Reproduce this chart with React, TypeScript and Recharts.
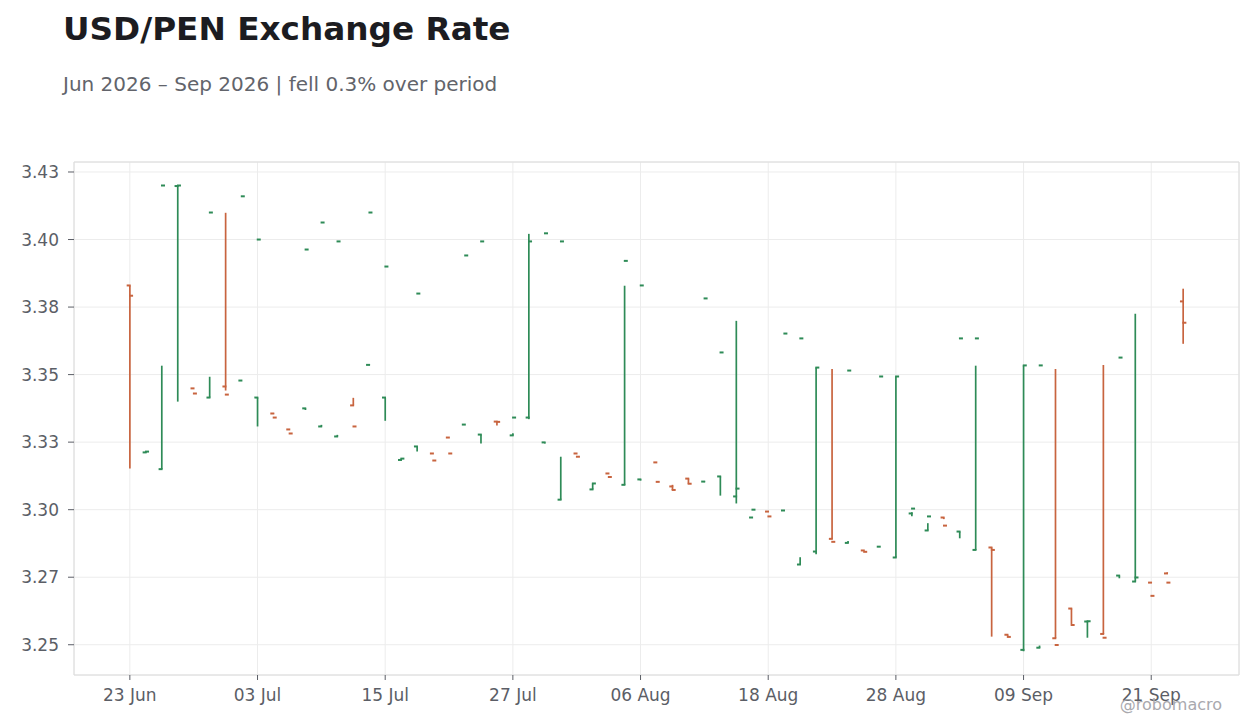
import React from "react";
import { ComposedChart, Bar, XAxis, YAxis, CartesianGrid, ReferenceArea } from "recharts";

const dates = [
  "23 Jun", "24 Jun", "25 Jun", "26 Jun", "29 Jun", "30 Jun",
  "01 Jul", "02 Jul", "03 Jul", "06 Jul", "07 Jul", "08 Jul", "09 Jul", "10 Jul",
  "13 Jul", "14 Jul", "15 Jul", "16 Jul", "17 Jul", "20 Jul", "21 Jul", "22 Jul",
  "23 Jul", "24 Jul", "27 Jul", "28 Jul", "29 Jul", "30 Jul", "31 Jul",
  "03 Aug", "04 Aug", "05 Aug", "06 Aug", "07 Aug", "10 Aug", "11 Aug", "12 Aug",
  "13 Aug", "14 Aug", "17 Aug", "18 Aug", "19 Aug", "20 Aug", "21 Aug", "24 Aug",
  "25 Aug", "26 Aug", "27 Aug", "28 Aug", "31 Aug",
  "01 Sep", "02 Sep", "03 Sep", "04 Sep", "07 Sep", "08 Sep", "09 Sep", "10 Sep",
  "11 Sep", "14 Sep", "15 Sep", "16 Sep", "17 Sep", "18 Sep", "21 Sep", "22 Sep", "23 Sep",
];

const opens = [
  3.3830, 3.3212, 3.3150, 3.4198, 3.3449, 3.3415, 3.3456, 3.3478, 3.3415, 3.3356,
  3.3297, 3.3375, 3.3308, 3.3271, 3.3386, 3.3536, 3.3415, 3.3184, 3.3234, 3.3208,
  3.3267, 3.3315, 3.3278, 3.3326, 3.3275, 3.3341, 3.3249, 3.3037, 3.3208, 3.3075,
  3.3134, 3.3092, 3.3112, 3.3175, 3.3086, 3.3115, 3.3104, 3.3123, 3.3049, 3.2971,
  3.2993, 3.2997, 3.2797, 3.2845, 3.2892, 3.2877, 3.2849, 3.2863, 3.2823, 3.2986,
  3.2923, 3.2971, 3.2919, 3.2851, 3.2860, 3.2537, 3.2481, 3.2489, 3.2524, 3.2634,
  3.2586, 3.2540, 3.2756, 3.2734, 3.2730, 3.2764, 3.3771,
];

const highs = [
  3.3830, 3.3216, 3.3533, 3.4202, 3.3449, 3.3492, 3.4099, 3.3478, 3.3415, 3.3357,
  3.3297, 3.3375, 3.3314, 3.3277, 3.3414, 3.3537, 3.3415, 3.3189, 3.3234, 3.3208,
  3.3267, 3.3315, 3.3278, 3.3326, 3.3283, 3.4021, 3.3249, 3.3196, 3.3208, 3.3097,
  3.3134, 3.3829, 3.3112, 3.3175, 3.3092, 3.3115, 3.3104, 3.3123, 3.3699, 3.2971,
  3.2993, 3.2997, 3.2824, 3.3526, 3.3521, 3.2884, 3.2849, 3.2863, 3.3493, 3.2990,
  3.2950, 3.2971, 3.2919, 3.3533, 3.2860, 3.2537, 3.3534, 3.2497, 3.3521, 3.2634,
  3.2587, 3.3536, 3.2756, 3.3725, 3.2730, 3.2768, 3.3818,
];

const lows = [
  3.3152, 3.3211, 3.3150, 3.3400, 3.3449, 3.3415, 3.3441, 3.3478, 3.3308, 3.3356,
  3.3297, 3.3369, 3.3308, 3.3271, 3.3386, 3.3535, 3.3329, 3.3184, 3.3215, 3.3208,
  3.3267, 3.3315, 3.3245, 3.3312, 3.3275, 3.3335, 3.3245, 3.3037, 3.3208, 3.3075,
  3.3134, 3.3092, 3.3108, 3.3175, 3.3073, 3.3096, 3.3102, 3.3052, 3.3023, 3.2971,
  3.2993, 3.2995, 3.2797, 3.2835, 3.2892, 3.2877, 3.2849, 3.2863, 3.2823, 3.2976,
  3.2923, 3.2965, 3.2894, 3.2851, 3.2530, 3.2533, 3.2476, 3.2489, 3.2524, 3.2576,
  3.2526, 3.2540, 3.2746, 3.2734, 3.2730, 3.2764, 3.3614,
];

const closes = [
  3.3792, 3.3215, 3.4200, 3.4200, 3.3430, 3.4100, 3.3426, 3.4160, 3.4000, 3.3341,
  3.3282, 3.3963, 3.4063, 3.3993, 3.3308, 3.4100, 3.3900, 3.3189, 3.3800, 3.3182,
  3.3208, 3.3941, 3.3993, 3.3325, 3.3341, 3.3993, 3.4023, 3.3993, 3.3196, 3.3097,
  3.3121, 3.3921, 3.3830, 3.3103, 3.3073, 3.3096, 3.3782, 3.3582, 3.3078, 3.3000,
  3.2975, 3.3652, 3.3634, 3.3526, 3.2881, 3.3515, 3.2844, 3.3493, 3.3493, 3.3004,
  3.2975, 3.2941, 3.3634, 3.3634, 3.2851, 3.2529, 3.3534, 3.3534, 3.2499, 3.2573,
  3.2587, 3.2526, 3.3563, 3.2749, 3.2681, 3.2730, 3.3692,
];

const xTicks = [0, 8, 16, 24, 32, 40, 48, 56, 64];
const yTicks = [3.25, 3.275, 3.3, 3.325, 3.35, 3.375, 3.4, 3.425];
const yTickLabels = ["3.25", "3.27", "3.30", "3.33", "3.35", "3.38", "3.40", "3.43"];

const UP = "#2e8b57";
const DOWN = "#c8643f";
const FONT = "'DejaVu Sans', Verdana, sans-serif";
const TICK_COLOR = "#5b5e66";

const data = dates.map((d, i) => {
  const o = opens[i], h = highs[i], l = lows[i], c = closes[i];
  return {
    i,
    date: d,
    open: o,
    high: h,
    low: l,
    close: c,
    range: [Math.min(o, h, l, c), Math.max(o, h, l, c)],
  };
});

function OhlcShape(props: any) {
  const { x, y, width, height, payload } = props;
  if (x == null || y == null || !payload) return null;
  const top = Math.min(y, y + height);
  const bot = Math.max(y, y + height);
  const lo = payload.range[0];
  const hi = payload.range[1];
  const toY = (v: number) => (hi === lo ? top : top + ((hi - v) / (hi - lo)) * (bot - top));
  const cx = x + width / 2;
  const color = payload.close >= payload.open ? UP : DOWN;
  const yH = toY(payload.high);
  const yL = toY(payload.low);
  const yO = toY(payload.open);
  const yC = toY(payload.close);
  return (
    <g>
      {yL - yH > 0.01 && (
        <line x1={cx} x2={cx} y1={yH} y2={yL} stroke={color} strokeWidth={1.7} />
      )}
      <line x1={cx - 3.2} x2={cx + 0.8} y1={yO} y2={yO} stroke={color} strokeWidth={2} />
      <line x1={cx - 0.8} x2={cx + 3.2} y1={yC} y2={yC} stroke={color} strokeWidth={2} />
    </g>
  );
}

export default function App() {
  return (
    <div
      style={{
        position: "absolute",
        left: 0,
        top: 0,
        width: 1260,
        height: 728,
        background: "#ffffff",
        fontFamily: FONT,
      }}
    >
      <ComposedChart
        width={1260}
        height={728}
        data={data}
        margin={{ top: 162, right: 21, bottom: 23, left: 0 }}
      >
        <CartesianGrid stroke="#ececec" strokeWidth={1} />
        <ReferenceArea
          x1={-3.5}
          x2={69.5}
          y1={3.2388}
          y2={3.4287}
          fill="none"
          stroke="#dcdcdc"
          strokeWidth={1}
          ifOverflow="visible"
        />
        <XAxis
          dataKey="i"
          type="number"
          domain={[-3.5, 69.5]}
          ticks={xTicks}
          tickFormatter={(v: number) => dates[v] ?? ""}
          allowDataOverflow
          axisLine={false}
          tickSize={5}
          tickMargin={9}
          height={30}
          tickLine={{ stroke: TICK_COLOR }}
          tick={{ fontSize: 17, fill: TICK_COLOR, fontFamily: FONT }}
          interval={0}
        />
        <YAxis
          type="number"
          domain={[3.2388, 3.4287]}
          ticks={yTicks}
          tickFormatter={(v: number) => {
            const k = yTicks.findIndex((t) => Math.abs(t - v) < 1e-9);
            return k >= 0 ? yTickLabels[k] : "";
          }}
          allowDataOverflow
          axisLine={false}
          width={74}
          tickSize={6}
          tickMargin={9}
          tickLine={{ stroke: TICK_COLOR }}
          tick={{ fontSize: 17, fill: TICK_COLOR, fontFamily: FONT }}
          interval={0}
        />
        <Bar
          dataKey="range"
          barSize={8}
          shape={<OhlcShape />}
          isAnimationActive={false}
        />
      </ComposedChart>
      <svg
        width={1260}
        height={728}
        style={{ position: "absolute", left: 0, top: 0, pointerEvents: "none" }}
      >
        <text x={63} y={40} fontSize={32.7} fontWeight="bold" fill="#1c1c21" fontFamily={FONT}>
          USD/PEN Exchange Rate
        </text>
        <text x={63} y={91} fontSize={20} fill="#62646b" fontFamily={FONT}>
          Jun 2026 – Sep 2026 | fell 0.3% over period
        </text>
        <text x={1222} y={710} fontSize={16} fill="#a9a9ae" textAnchor="end" fontFamily={FONT}>
          @robomacro
        </text>
      </svg>
    </div>
  );
}
